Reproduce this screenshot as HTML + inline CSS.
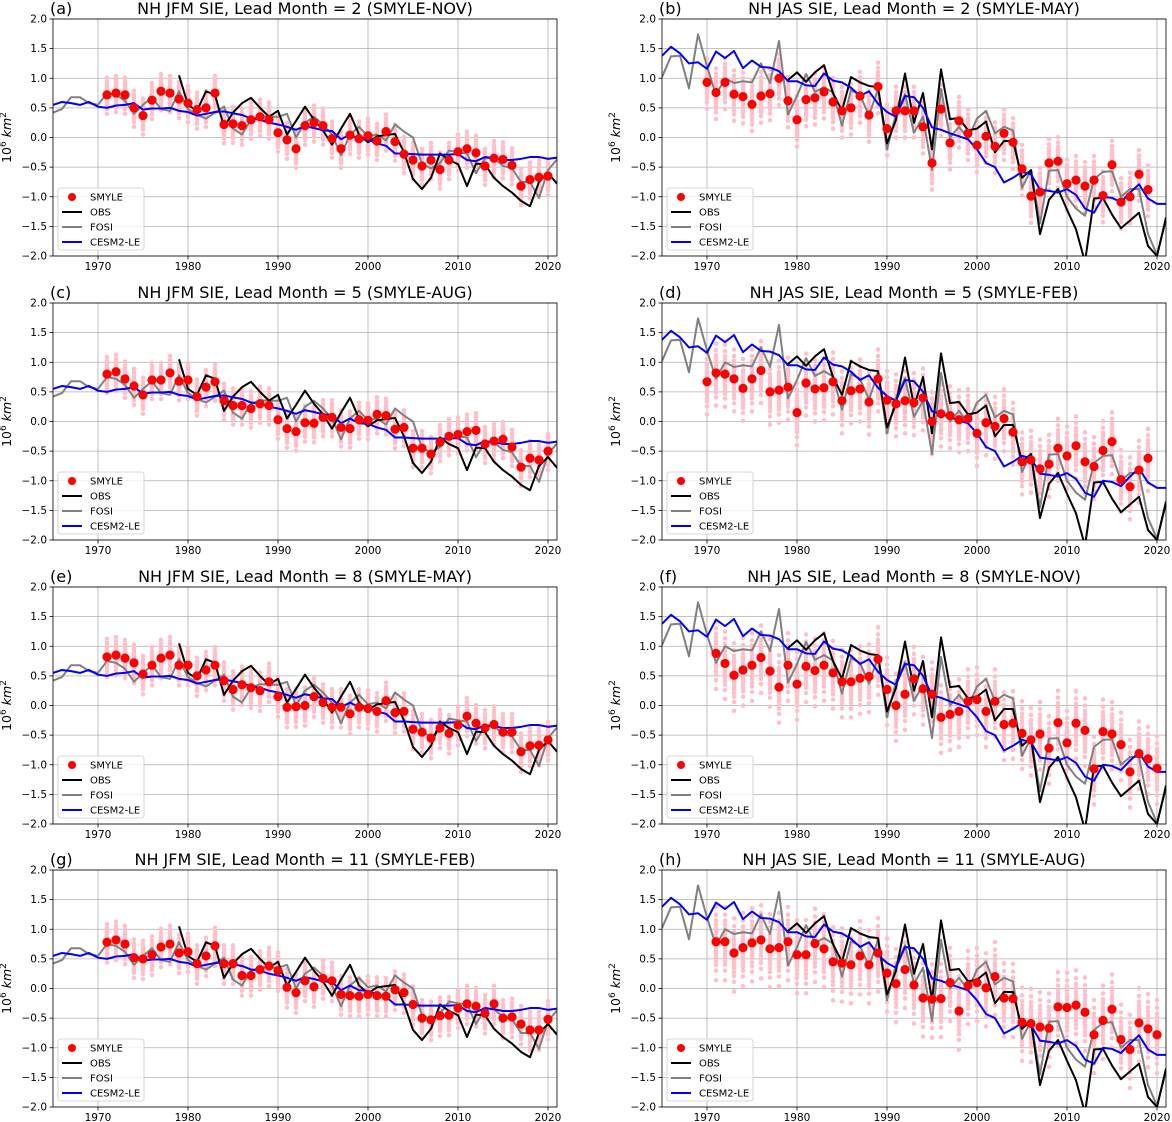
<!DOCTYPE html>
<html><head><meta charset="utf-8">
<style>
html,body{margin:0;padding:0;background:#fff;}
svg{display:block;font-family:"DejaVu Sans","Liberation Sans",sans-serif;}
</style></head>
<body>
<svg id="fig" width="1172" height="1122" viewBox="0 0 1172 1122" xmlns="http://www.w3.org/2000/svg"></svg>
<script>
// ---- data ----
const fosiStart = 1965;
const jfmObsStart = 1979;
const jfmObs = [1.05,0.55,0.45,0.78,0.72,0.18,0.42,0.58,0.67,0.5,0.35,0.45,0.05,0.28,0.52,0.3,0.12,-0.12,0.15,0.4,0.05,-0.08,0.02,0.04,0.06,-0.25,-0.7,-0.87,-0.68,-0.27,-0.38,-0.45,-0.82,-0.44,-0.45,-0.68,-0.82,-0.93,-1.07,-1.16,-0.75,-0.6,-0.78];
const jfmFosi = [0.42,0.48,0.68,0.68,0.58,0.55,0.75,0.72,0.62,0.4,0.55,0.68,0.48,0.45,0.78,0.48,0.38,0.32,0.42,0.52,0.15,0.05,0.3,0.36,0.35,0.35,0.4,0.0,0.25,0.35,0.22,0.05,-0.3,0.05,0.18,0.02,0.05,-0.05,0.22,0.1,0.0,-0.45,-0.52,-0.43,-0.22,-0.25,-0.27,-0.6,-0.35,-0.35,-0.48,-0.52,-0.75,-0.75,-1.02,-0.55,-0.37];
const jfmLe = [0.55,0.6,0.58,0.55,0.6,0.52,0.5,0.54,0.55,0.58,0.47,0.49,0.49,0.5,0.45,0.43,0.37,0.4,0.43,0.44,0.41,0.38,0.32,0.3,0.25,0.22,0.18,0.13,0.19,0.16,0.12,0.11,-0.03,0.05,-0.03,-0.04,-0.1,-0.14,-0.27,-0.27,-0.28,-0.29,-0.29,-0.29,-0.29,-0.28,-0.38,-0.4,-0.33,-0.35,-0.38,-0.38,-0.36,-0.33,-0.33,-0.36,-0.34];
const jasObsStart = 1979;
const jasObs = [0.97,1.1,0.94,1.1,1.22,0.75,0.45,1.02,0.93,0.87,0.85,-0.1,0.3,1.08,0.25,0.75,-0.2,1.15,0.31,0.33,0.12,0.15,0.27,-0.25,-0.06,-0.06,-0.68,-0.55,-1.63,-1.05,-0.87,-1.22,-1.55,-2.1,-1.03,-1.02,-1.3,-1.53,-1.4,-1.27,-1.83,-2.0,-1.35];
const jasFosi = [1.02,1.37,1.38,0.83,1.74,1.2,0.72,1.0,0.92,0.95,0.93,1.25,0.92,1.63,0.39,0.7,1.07,0.77,0.85,0.76,0.2,0.8,0.72,0.37,0.82,-0.2,0.4,0.73,0.08,0.35,-0.55,0.82,0.0,0.18,-0.02,0.32,0.45,0.07,0.18,0.12,-0.85,-0.55,-1.45,-0.56,-0.55,-1.0,-1.2,-1.32,-0.7,-0.58,-0.57,-1.0,-0.87,-0.87,-1.63,-1.98,-1.4];
const jasLe = [1.38,1.53,1.42,1.25,1.27,1.16,1.45,1.34,1.46,1.17,1.3,1.19,1.18,1.12,0.95,0.95,0.88,0.87,1.08,0.96,0.93,0.84,0.7,0.78,0.57,0.43,0.35,0.7,0.68,0.5,0.17,0.13,0.07,0.02,-0.03,-0.2,-0.43,-0.5,-0.76,-0.68,-0.58,-0.62,-0.88,-0.9,-0.93,-0.87,-0.97,-1.2,-1.27,-1.0,-1.02,-1.09,-0.93,-0.79,-1.03,-1.12,-1.12];
// SMYLE ensemble means per panel
const smyleA = [0.72,0.75,0.72,0.5,0.37,0.63,0.78,0.75,0.65,0.58,0.47,0.5,0.75,0.22,0.23,0.2,0.3,0.35,0.3,0.08,-0.04,-0.19,0.2,0.25,0.2,-0.02,-0.19,0.04,-0.02,0.03,-0.06,0.1,-0.07,-0.28,-0.38,-0.48,-0.38,-0.54,-0.38,-0.24,-0.19,-0.26,-0.48,-0.35,-0.37,-0.47,-0.82,-0.71,-0.67,-0.65];
const smyleC = [0.8,0.84,0.72,0.6,0.45,0.7,0.7,0.82,0.68,0.7,0.42,0.58,0.67,0.35,0.27,0.27,0.22,0.3,0.27,0.03,-0.12,-0.17,-0.02,-0.03,0.07,0.07,-0.1,-0.12,0.03,0.02,0.12,0.1,-0.13,-0.1,-0.45,-0.45,-0.55,-0.35,-0.25,-0.22,-0.17,-0.15,-0.38,-0.33,-0.3,-0.43,-0.77,-0.62,-0.65,-0.5];
const smyleE = [0.82,0.85,0.8,0.72,0.53,0.68,0.8,0.85,0.68,0.68,0.5,0.6,0.68,0.42,0.27,0.35,0.3,0.25,0.4,0.15,-0.03,-0.02,0.0,0.15,0.05,-0.03,-0.03,-0.14,-0.03,-0.05,-0.1,0.08,-0.12,-0.1,-0.4,-0.45,-0.55,-0.38,-0.47,-0.33,-0.18,-0.3,-0.38,-0.32,-0.45,-0.45,-0.78,-0.68,-0.67,-0.58];
const smyleG = [0.78,0.82,0.75,0.52,0.5,0.57,0.7,0.75,0.6,0.62,0.42,0.55,0.72,0.42,0.42,0.22,0.22,0.32,0.38,0.3,0.02,-0.07,0.13,0.03,0.17,0.13,-0.1,-0.12,-0.13,-0.1,-0.12,-0.13,-0.02,-0.07,-0.27,-0.5,-0.53,-0.46,-0.45,-0.33,-0.26,-0.3,-0.42,-0.26,-0.5,-0.48,-0.6,-0.7,-0.7,-0.52];
const smyleB = [0.93,0.76,0.93,0.73,0.69,0.56,0.7,0.74,1.0,0.62,0.3,0.64,0.67,0.77,0.6,0.45,0.5,0.7,0.38,0.86,0.15,0.45,0.45,0.45,0.18,-0.43,0.48,-0.09,0.28,0.07,-0.13,0.02,-0.15,0.07,-0.08,-0.53,-0.99,-0.92,-0.43,-0.4,-0.78,-0.72,-0.82,-0.72,-0.98,-0.46,-1.09,-1.0,-0.62,-0.88];
const smyleD = [0.67,0.82,0.8,0.72,0.56,0.72,0.86,0.5,0.53,0.58,0.15,0.65,0.55,0.57,0.67,0.35,0.52,0.55,0.33,0.72,0.36,0.3,0.35,0.32,0.4,0.0,0.13,0.1,0.03,0.05,-0.2,-0.02,-0.08,0.05,-0.18,-0.68,-0.65,-0.8,-0.72,-0.45,-0.58,-0.41,-0.68,-0.76,-0.49,-0.34,-0.98,-1.1,-0.82,-0.62];
const smyleF = [0.88,0.71,0.51,0.6,0.68,0.81,0.58,0.31,0.68,0.36,0.66,0.59,0.68,0.55,0.4,0.4,0.46,0.49,0.78,0.27,0.0,0.19,0.45,0.28,0.19,-0.2,-0.15,-0.1,0.07,0.1,-0.1,0.07,-0.32,-0.3,-0.47,-0.58,-0.48,-0.72,-0.29,-0.63,-0.3,-0.42,-1.07,-0.44,-0.48,-0.66,-1.12,-0.81,-0.9,-1.06];
const smyleH = [0.79,0.79,0.6,0.69,0.77,0.82,0.67,0.69,0.79,0.57,0.57,0.76,0.67,0.45,0.43,0.4,0.55,0.4,0.6,0.26,0.08,0.32,0.06,-0.16,-0.18,-0.17,0.1,-0.38,0.05,0.1,0.01,0.2,-0.16,-0.17,-0.57,-0.59,-0.65,-0.67,-0.31,-0.32,-0.28,-0.4,-0.78,-0.54,-0.35,-0.86,-1.03,-0.58,-0.68,-0.78];
// ensemble member offsets (shared pattern, scaled by panel spread)
const memberOffsets = [0.9,0.7,0.55,0.45,0.35,0.28,0.2,0.12,0.06,0.0,-0.05,-0.12,-0.18,-0.25,-0.32,-0.4,-0.5,-0.6,-0.75,-1.0];
const yTicks = [2.0,1.5,1.0,0.5,0.0,-0.5,-1.0,-1.5,-2.0];
const xTicks = [1970,1980,1990,2000,2010,2020];

const panels = [
 {id:'a',letter:'(a)',title:'NH JFM SIE, Lead Month = 2 (SMYLE-NOV)',ox:53,oy:19,s:'jfm',sm:smyleA,st:1971,sp:0.32},
 {id:'b',letter:'(b)',title:'NH JAS SIE, Lead Month = 2 (SMYLE-MAY)',ox:662,oy:19,s:'jas',sm:smyleB,st:1970,sp:0.45},
 {id:'c',letter:'(c)',title:'NH JFM SIE, Lead Month = 5 (SMYLE-AUG)',ox:53,oy:303,s:'jfm',sm:smyleC,st:1971,sp:0.32},
 {id:'d',letter:'(d)',title:'NH JAS SIE, Lead Month = 5 (SMYLE-FEB)',ox:662,oy:303,s:'jas',sm:smyleD,st:1970,sp:0.55},
 {id:'e',letter:'(e)',title:'NH JFM SIE, Lead Month = 8 (SMYLE-MAY)',ox:53,oy:587,s:'jfm',sm:smyleE,st:1971,sp:0.34},
 {id:'f',letter:'(f)',title:'NH JAS SIE, Lead Month = 8 (SMYLE-NOV)',ox:662,oy:587,s:'jas',sm:smyleF,st:1971,sp:0.6},
 {id:'g',letter:'(g)',title:'NH JFM SIE, Lead Month = 11 (SMYLE-FEB)',ox:53,oy:870,s:'jfm',sm:smyleG,st:1971,sp:0.34},
 {id:'h',letter:'(h)',title:'NH JAS SIE, Lead Month = 11 (SMYLE-AUG)',ox:662,oy:870,s:'jas',sm:smyleH,st:1971,sp:0.65}
];

const NS='http://www.w3.org/2000/svg';
const svg=document.getElementById('fig');
const PW=504, PH=237, X0=1965, X1=2021;
function mk(tag,attrs,parent){const e=document.createElementNS(NS,tag);for(const k in attrs)e.setAttribute(k,attrs[k]);(parent||svg).appendChild(e);return e;}

panels.forEach(p=>{
  const xs=yr=>p.ox+(yr-X0)*PW/(X1-X0);
  const ys=v=>p.oy+(2-v)*PH/4;
  const g=mk('g',{});
  
  
  const defs=mk('clipPath',{id:'clip'+p.id},g);
  mk('rect',{x:p.ox,y:p.oy,width:PW,height:PH},defs);
  yTicks.forEach(v=>{
    const l=mk('line',{x1:p.ox,x2:p.ox+PW,y1:ys(v),y2:ys(v),stroke:'#b0b0b0','stroke-width':0.8},g);
    
    
    mk('line',{x1:p.ox-3.5,x2:p.ox,y1:ys(v),y2:ys(v),stroke:'#000','stroke-width':0.8},g);
    const t=mk('text',{x:p.ox-6,y:ys(v)+3.5,'text-anchor':'end','font-size':'10.5',fill:'#000'},g);
    t.textContent=(v<0?'\u2212':'')+Math.abs(v).toFixed(1);
    
    
  });
  xTicks.forEach(yr=>{
    const l=mk('line',{x1:xs(yr),x2:xs(yr),y1:p.oy,y2:p.oy+PH,stroke:'#b0b0b0','stroke-width':0.8},g);
    
    
    mk('line',{x1:xs(yr),x2:xs(yr),y1:p.oy+PH,y2:p.oy+PH+3.5,stroke:'#000','stroke-width':0.8},g);
    const t=mk('text',{x:xs(yr),y:p.oy+PH+14,'text-anchor':'middle','font-size':'10.5',fill:'#000'},g);
    t.textContent=yr;
    
    
  });
  const plot=mk('g',{'clip-path':'url(#clip'+p.id+')'},g);
  const ens=mk('g',{},plot);
  
  
  p.sm.forEach((v,i)=>{
    memberOffsets.forEach(o=>{
      mk('circle',{cx:xs(p.st+i),cy:ys(v+o*p.sp),r:2.3,fill:'#ffc0cb'},ens);
    });
  });
  const obs=p.s==='jfm'?jfmObs:jasObs, fosi=p.s==='jfm'?jfmFosi:jasFosi, le=p.s==='jfm'?jfmLe:jasLe;
  const obsStart=p.s==='jfm'?jfmObsStart:jasObsStart;
  function line(arr,start,color,name){
    const pl=mk('polyline',{points:arr.map((v,i)=>xs(start+i)+','+ys(v)).join(' '),fill:'none',stroke:color,'stroke-width':2,'stroke-linejoin':'round'},plot);
    
    
  }
  line(fosi,fosiStart,'#808080','fosi-line');
  line(obs,obsStart,'#000000','obs-line');
  line(le,fosiStart,'#0000ff','cesm2-le-line');
  const sg=mk('g',{},plot);
  
  
  p.sm.forEach((v,i)=>{
    mk('circle',{cx:xs(p.st+i),cy:ys(v),r:4.6,fill:'#ff0000'},sg);
  });
  mk('rect',{x:p.ox,y:p.oy,width:PW,height:PH,fill:'none',stroke:'#000','stroke-width':0.8},g);
  const tt=mk('text',{x:p.ox+PW/2,y:p.oy-5,'text-anchor':'middle','font-size':'16',fill:'#000'},g);
  tt.textContent=p.title;
  
  
  const lt=mk('text',{x:p.ox-3,y:p.oy-5,'text-anchor':'start','font-size':'16',fill:'#000'},g);
  lt.textContent=p.letter;
  
  
  const yl=mk('text',{x:0,y:0,'text-anchor':'middle','font-size':'12.5',fill:'#000',transform:'translate('+(p.ox-42)+','+(p.oy+PH/2)+') rotate(-90)'},g);
  
  
  yl.innerHTML='10<tspan dy="-5" font-size="9">6</tspan><tspan dy="5"> </tspan><tspan font-style="italic">km</tspan><tspan dy="-5" font-size="9">2</tspan>';
  const lg=mk('g',{},g);
  
  
  const lx=p.ox+5, ly=p.oy+169;
  mk('rect',{x:lx,y:ly,width:86,height:62,rx:2.5,fill:'#fff','fill-opacity':0.8,stroke:'#cccccc','stroke-width':0.8},lg);
  const items=[['SMYLE','dot'],['OBS','#000000'],['FOSI','#808080'],['CESM2-LE','#0000ff']];
  items.forEach((it,k)=>{
    const yy=ly+9+k*15;
    const e=mk('g',{},lg);
    
    
    if(it[1]==='dot') mk('circle',{cx:lx+14,cy:yy,r:4,fill:'#ff0000'},e);
    else mk('line',{x1:lx+4,x2:lx+24,y1:yy,y2:yy,stroke:it[1],'stroke-width':2},e);
    const t=mk('text',{x:lx+32,y:yy+3.5,'font-size':'10',fill:'#000'},e);
    t.textContent=it[0];
  });
});
</script>
</body></html>
